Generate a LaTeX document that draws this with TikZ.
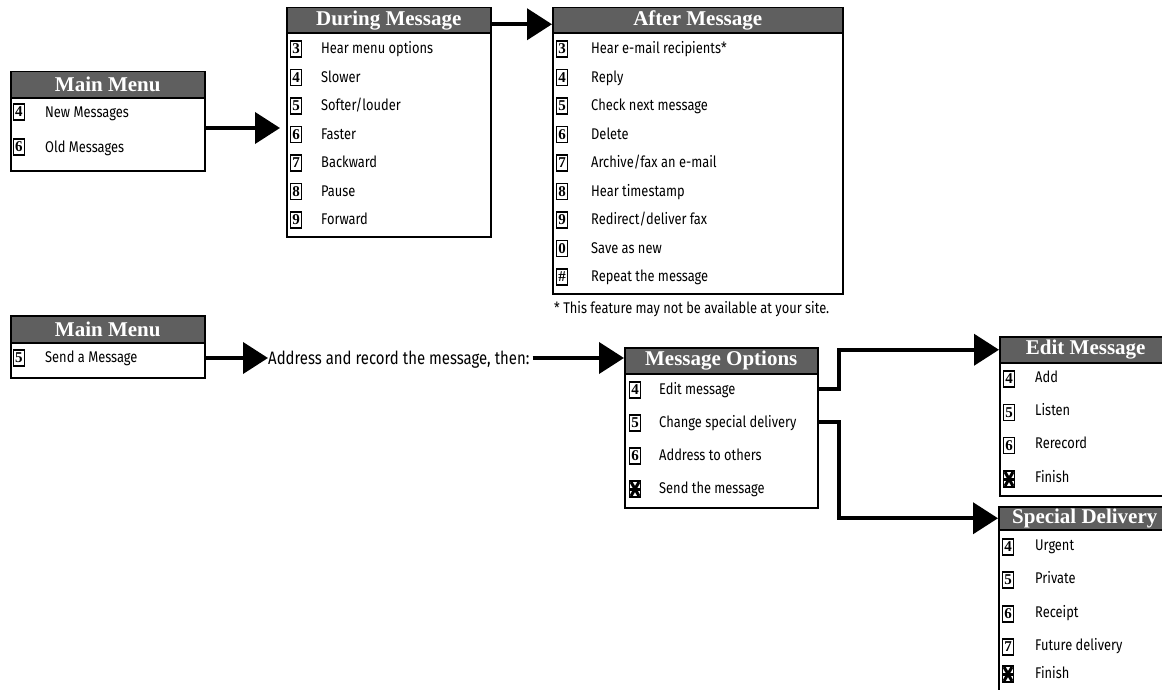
\documentclass[tikz,border=0pt]{standalone}
\usepackage{fontspec}
\setmainfont[FakeStretch=0.83]{Fira Sans}
\newfontfamily\hdrserif{Liberation Serif}
\usepackage{tikz}
\usetikzlibrary{positioning, calc, arrows.meta}

\definecolor{hdrgray}{RGB}{95,95,95}

\tikzset{
  hdr/.style={draw=black, line width=1.5pt, fill=hdrgray, text=white, anchor=north west,
    inner sep=0pt, minimum height=26pt, font=\hdrserif\bfseries\fontsize{21}{22}\selectfont},
  menubody/.style={draw=black, line width=2pt, anchor=north west, inner sep=0pt},
  keycap/.style={draw=black, line width=1.6pt, fill=white, minimum width=11pt, minimum height=16pt,
    inner sep=0pt, font=\hdrserif\bfseries\fontsize{15}{15}\selectfont},
  starcap/.style={keycap, path picture={
    \draw[line width=3pt] (path picture bounding box.west) -- (path picture bounding box.east);
    \draw[line width=3pt] ([shift={(-4pt,-7pt)}]path picture bounding box.center)
      -- ([shift={(4pt,7pt)}]path picture bounding box.center);
    \draw[line width=3pt] ([shift={(-4pt,7pt)}]path picture bounding box.center)
      -- ([shift={(4pt,-7pt)}]path picture bounding box.center);}},
  item/.style={anchor=west, inner sep=0pt, text height=10.7pt, text depth=0pt,
    font=\fontsize{15.5}{17}\selectfont},
  flow/.style={line width=4pt, -{Triangle[length=25pt,width=31pt]}}
}

\begin{document}
\begin{tikzpicture}[x=1pt,y=-1pt]
  \useasboundingbox (0,0) rectangle (1162,690);
  \clip (0,0) rectangle (1162,690);

  % Main Menu (top)
  \node[menubody, minimum width=194pt, minimum height=73pt] (mma) at (10,97) {};
  \node[hdr, minimum width=194pt] (mmah) at (10,71) {Main Menu};
  \foreach \k/\t [count=\i] in {4/New Messages, 6/Old Messages} {
    \node[keycap] (mma-k\i) at (19,{112+(\i-1)*35}) {\k};
    \node[item] (mma-\i) at (45,{112+(\i-1)*35}) {\t};
  }

  % During Message
  \node[menubody, minimum width=204pt, minimum height=204pt] (dm) at (286,32) {};
  \node[hdr, minimum width=204pt, minimum height=25pt] (dmh) at (286,7) {During Message};
  \foreach \k/\t [count=\i] in {3/Hear menu options, 4/Slower, 5/Softer\slash louder, 6/Faster,
      7/Backward, 8/Pause, 9/Forward} {
    \node[keycap] (dm-k\i) at (296,{49+(\i-1)*28.5}) {\k};
    \node[item] (dm-\i) at (321,{48.5+(\i-1)*28.5}) {\t};
  }

  % After Message
  \node[menubody, minimum width=290pt, minimum height=261pt] (am) at (552,32) {};
  \node[hdr, minimum width=290pt, minimum height=25pt] (amh) at (552,7) {After Message};
  \foreach \k/\t [count=\i] in {3/Hear e-mail recipients*, 4/Reply, 5/Check next message,
      6/Delete, 7/Archive\slash fax an e-mail, 8/Hear timestamp, 9/Redirect\slash deliver fax,
      0/Save as new, \#/Repeat the message} {
    \node[keycap] (am-k\i) at (562,{49+(\i-1)*28.5}) {\k};
    \node[item] (am-\i) at (591,{48.5+(\i-1)*28.5}) {\t};
  }
  \node[item, font=\fontsize{15.5}{16}\selectfont] (fn) at (554,308)
    {* This feature may not be available at your site.};

  % Main Menu (bottom)
  \node[menubody, minimum width=194pt, minimum height=35pt] (mmb) at (10,342) {};
  \node[hdr, minimum width=194pt, minimum height=27pt] (mmbh) at (10,315) {Main Menu};
  \node[keycap] (mmb-k1) at (19,358) {5};
  \node[item] (mmb-1) at (45,357) {Send a Message};
  \node[item, text height=12.5pt, font=\fontsize{18}{20}\selectfont] (addr) at (268,358)
    {Address and record the message, then:};

  % Message Options
  \node[menubody, minimum width=193pt, minimum height=134pt] (mo) at (624,373) {};
  \node[hdr, minimum width=193pt] (moh) at (624,347) {Message Options};
  \foreach \k/\t [count=\i] in {4/Edit message, 5/Change special delivery, 6/Address to others} {
    \node[keycap] (mo-k\i) at (635,{390+(\i-1)*33}) {\k};
    \node[item] (mo-\i) at (659,{389+(\i-1)*33}) {\t};
  }
  \node[starcap] (mo-k4) at (635,489) {};
  \node[item] (mo-4) at (659,488) {Send the message};

  % Edit Message
  \node[menubody, minimum width=172pt, minimum height=133pt] (em) at (999,362) {};
  \node[hdr, minimum width=172pt] (emh) at (999,336) {Edit Message};
  \foreach \k/\t [count=\i] in {4/Add, 5/Listen, 6/Rerecord} {
    \node[keycap] (em-k\i) at (1009,{379+(\i-1)*33.3}) {\k};
    \node[item] (em-\i) at (1035,{377+(\i-1)*33.3}) {\t};
  }
  \node[starcap] (em-k4) at (1009,479) {};
  \node[item] (em-4) at (1035,477) {Finish};

  % Special Delivery
  \node[menubody, minimum width=172pt, minimum height=180pt] (sd) at (998,529) {};
  \node[hdr, minimum width=172pt, minimum height=23pt] (sdh) at (998,506) {Special Delivery};
  \foreach \k/\t/\y [count=\i] in {4/Urgent/545, 5/Private/578, 6/Receipt/612, 7/Future delivery/645} {
    \node[keycap] (sd-k\i) at (1008,\y+2) {\k};
    \node[item] (sd-\i) at (1035,\y) {\t};
  }
  \node[starcap] (sd-k5) at (1008,674) {};
  \node[item] (sd-5) at (1035,673) {Finish};

  % connectors
  \coordinate (t1) at (280,128);
  \draw[flow] (t1 -| mma.east) -- (t1);
  \draw[flow] ([yshift=-4pt]dmh.east) -- ([yshift=-4pt]amh.west);
  \draw[flow] (addr.west -| mmb.east) -- (addr.west);
  \draw[flow] ([xshift=3pt]addr.east) -- (addr.east -| moh.west);
  \draw[flow] (mo-1 -| mo.east) -- ++(20,0) |- (emh.west);
  \draw[flow] (mo-2 -| mo.east) -- ++(20,0) |- (sdh.west);
\end{tikzpicture}
\end{document}
